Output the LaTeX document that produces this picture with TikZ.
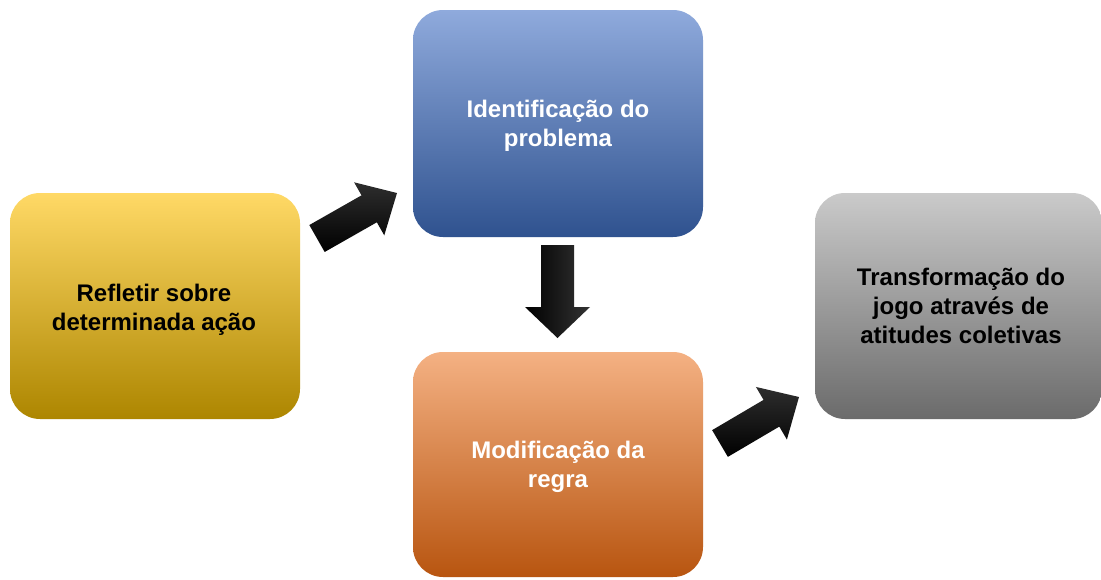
\documentclass[tikz,border=0pt]{standalone}
\usepackage{fontspec}
\setmainfont{Liberation Sans}
\usetikzlibrary{calc}
\definecolor{yTop}{HTML}{FFD966}
\definecolor{yMid}{HTML}{FFC000}
\definecolor{yBot}{HTML}{AD8600}
\definecolor{bTop}{HTML}{8FAADC}
\definecolor{bMid}{HTML}{4472C4}
\definecolor{bBot}{HTML}{2F528F}
\definecolor{oTop}{HTML}{F4B183}
\definecolor{oMid}{HTML}{ED7D31}
\definecolor{oBot}{HTML}{B85510}
\definecolor{gTop}{HTML}{CACACA}
\definecolor{gMid}{HTML}{A5A5A5}
\definecolor{gBot}{HTML}{6B6B6B}
\newcommand{\blockarr}[6]{% #1 tail, #2 tip, #3 shaft half, #4 head half, #5 head length, #6 style
  \coordinate (hd) at ($(#2)!#5!(#1)$);
  \path[#6] ($(#1)!#3!90:(#2)$) -- ($(hd)!#3!90:(#2)$) -- ($(hd)!#4!90:(#2)$) -- (#2)
    -- ($(hd)!#4!-90:(#2)$) -- ($(hd)!#3!-90:(#2)$) -- ($(#1)!#3!-90:(#2)$) -- cycle;
}
\begin{document}
\begin{tikzpicture}[x=1pt,y=-1pt,
  txtfont/.style={font=\fontsize{24}{29}\selectfont\bfseries},
  box/.style={rounded corners=30pt, inner sep=0pt},
  yellowbox/.style={box, top color=yTop, middle color=yMid, bottom color=yBot},
  bluebox/.style={box, top color=bTop, middle color=bMid, bottom color=bBot},
  orangebox/.style={box, top color=oTop, middle color=oMid, bottom color=oBot},
  graybox/.style={box, top color=gTop, middle color=gMid, bottom color=gBot},
  darktext/.style={inner sep=0pt, align=center, txtfont, text=black},
  lighttext/.style={inner sep=0pt, align=center, txtfont, text=white},
  arrowdiag/.style={top color=black!82, bottom color=black},
  arrowdown/.style={left color=black, right color=black!80}
]
\useasboundingbox (0,0) rectangle (1101,579);
\path[fill=white] (0,0) rectangle (1101,579);

\node[yellowbox, minimum width=290pt, minimum height=226pt] (refl) at (155,306) {};
\node[bluebox, minimum width=290pt, minimum height=227pt] (ident) at (558,123.5) {};
\node[orangebox, minimum width=290pt, minimum height=225pt] (modif) at (558,464.5) {};
\node[graybox, minimum width=287pt, minimum height=226pt] (transf) at (958.5,306) {};

\node[darktext] (refltxt) at (154,309.5) {Refletir sobre\\determinada ação};
\node[lighttext] (identtxt) at (558,126) {Identificação do\\problema};
\node[lighttext] (modiftxt) at (558,466.5) {Modificação da\\regra};
\node[darktext] (transftxt) at (961,306) {Transformação do\\jogo através de\\atitudes coletivas};

\coordinate (a1s) at (317,238.5);
\coordinate (a1e) at (397,193);
\coordinate (a2s) at (557.5,245);
\coordinate (a2e) at (557.5,338);
\coordinate (a3s) at (720,443.5);
\coordinate (a3e) at (799,397);

\blockarr{a1s}{a1e}{15.5pt}{30.5pt}{32pt}{arrowdiag}
\blockarr{a2s}{a2e}{16.5pt}{32.5pt}{31pt}{arrowdown}
\blockarr{a3s}{a3e}{15.5pt}{30.5pt}{32pt}{arrowdiag}
\end{tikzpicture}
\end{document}
